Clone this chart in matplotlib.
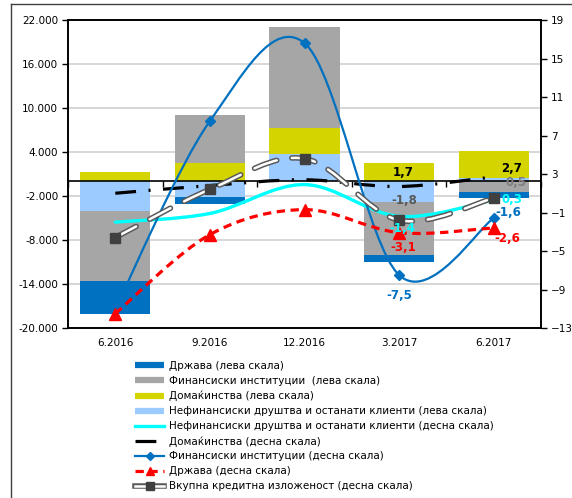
import numpy as np
import matplotlib
matplotlib.use("Agg")
import matplotlib.pyplot as plt
from matplotlib.path import Path
from matplotlib.patches import PathPatch
from matplotlib.lines import Line2D
import matplotlib.patheffects as pe

plt.rcParams['font.family'] = ['DejaVu Sans']
plt.rcParams['lines.scale_dashes'] = False

# периоди
categories = ['6.2016', '9.2016', '12.2016', '3.2017', '6.2017']

# промени во изложеноста, лева скала (столбови)
nefin_left = [-4000, -2100, 3700, -2800, 500]
domak_left = [1300, 2450, 3600, 2450, 3600]
finans_left = [-9600, 6550, 13700, -7250, -1400]
drzava_left = [-4500, -1050, 0, -1000, -900]

# стапки, десна скала (линии)
nefin_right = [-2.0, -1.1, 1.9, -1.4, 0.3]
domak_right = [1.0, 1.8, 2.4, 1.7, 2.7]
finans_right = [-11.0, 8.5, 16.6, -7.5, -1.6]
drzava_right = [-11.5, -3.3, -0.7, -3.1, -2.6]
vkupna_right = [-3.6, 1.4, 4.6, -1.8, 0.5]

left_ticks = [-20000, -14000, -8000, -2000, 4000, 10000, 16000, 22000]
right_ticks = [-13, -9, -5, -1, 3, 7, 11, 15, 19]

c_drz = '#0070C0'
c_fin = '#A6A6A6'
c_dom = '#D4D400'
c_nef = '#9CCBFF'


def smooth_path(xs, ys):
    # мазна крива како во Excel (Безие сегменти)
    pts = np.column_stack([xs, ys]).astype(float)
    n = len(pts)
    verts = [pts[0]]
    codes = [Path.MOVETO]
    for i in range(n - 1):
        p0 = pts[i - 1] if i > 0 else pts[i]
        p1 = pts[i]
        p2 = pts[i + 1]
        p3 = pts[i + 2] if i + 2 < n else pts[i + 1]
        verts += [p1 + (p2 - p0) / 6, p2 - (p3 - p1) / 6, p2]
        codes += [Path.CURVE4] * 3
    return Path(verts, codes)


fig = plt.figure(figsize=(5.72, 4.98), dpi=100)
ax1 = fig.add_axes([68 / 572, 1 - 328 / 498, 473 / 572, 308 / 498])
ax2 = ax1.twinx()

x = np.arange(len(categories))
width = 0.74

# столбови: позитивните и негативните се редат одделно
pos = np.zeros(len(x))
neg = np.zeros(len(x))
for vals, col in [(nefin_left, c_nef), (domak_left, c_dom),
                  (finans_left, c_fin), (drzava_left, c_drz)]:
    v = np.array(vals, dtype=float)
    bottom = np.where(v >= 0, pos, neg)
    ax1.bar(x, v, width, bottom=bottom, color=col, zorder=2)
    pos += np.where(v >= 0, v, 0)
    neg += np.where(v < 0, v, 0)

ax1.set_xlim(-0.5, len(x) - 0.5)
ax1.set_ylim(-20000, 22000)
ax1.set_yticks(left_ticks)
ax1.set_yticklabels([f"{t:,}".replace(',', '.') for t in left_ticks])
ax1.yaxis.grid(True, color='#D4D4D4', lw=1.3, zorder=0)
ax1.set_axisbelow(True)
ax1.set_xticks(x)
ax1.set_xticklabels(categories)
ax1.tick_params(axis='x', length=0, pad=7, labelsize=7.5)
ax1.tick_params(axis='y', length=4, width=1, labelsize=7.5, pad=3)
for s in ax1.spines.values():
    s.set_color('black')
    s.set_linewidth(1.2)

# хоризонтална оска на нула
zero = ax1.secondary_xaxis(20 / 42)
zero.set_xticks(np.arange(-0.5, len(x), 1.0))
zero.tick_params(axis='x', direction='out', length=4, width=1, labelbottom=False, labeltop=False,
                 bottom=True, top=False)
zero.spines['bottom'].set_color('black')
zero.spines['bottom'].set_linewidth(1.2)
zero.set_zorder(5)

ax2.set_ylim(-13, 19)
ax2.set_yticks(right_ticks)
ax2.tick_params(axis='y', length=4, width=1, labelsize=7.5, pad=3)
for s in ax2.spines.values():
    s.set_color('black')
    s.set_linewidth(1.2)

# линии на десна скала
ax2.add_patch(PathPatch(smooth_path(x, nefin_right), fc='none', ec='#00FFFF', lw=2.4,
                        capstyle='round', zorder=3))
ax2.add_patch(PathPatch(smooth_path(x, domak_right), fc='none', ec='black', lw=2.3,
                        linestyle=(0, (15, 9, 1.5, 9)), capstyle='butt', zorder=4))
ax2.add_patch(PathPatch(smooth_path(x, finans_right), fc='none', ec=c_drz, lw=1.6, zorder=5))
ax2.plot(x, finans_right, ls='none', marker='D', ms=5, color=c_drz, zorder=6)
ax2.add_patch(PathPatch(smooth_path(x, drzava_right), fc='none', ec='#FF0000', lw=2.3,
                        linestyle=(0, (6, 4)), capstyle='butt', zorder=6))
ax2.plot(x, drzava_right, ls='none', marker='^', ms=8, color='#FF0000', zorder=7)
vk_effect = [pe.withStroke(linewidth=4.0, foreground='#5A5A5A')]
vk = PathPatch(smooth_path(x, vkupna_right), fc='none', ec='white', lw=1.8,
               linestyle=(0, (17, 11)), capstyle='round', zorder=8)
vk.set_path_effects(vk_effect)
ax2.add_patch(vk)
ax2.plot(x, vkupna_right, ls='none', marker='s', ms=7.5, color='#404040', zorder=9)

# ознаки на вредности
lab = [
    (3, domak_right[3], 'black', 4, 14),
    (4, domak_right[4], 'black', 18, 8),
    (3, vkupna_right[3], '#595959', 5, 20),
    (4, vkupna_right[4], '#7F7F7F', 22, 16),
    (4, nefin_right[4], '#00FFFF', 18, 0),
    (3, nefin_right[3], '#00FFFF', 3, -12),
    (4, finans_right[4], c_drz, 15, 6),
    (3, finans_right[3], c_drz, 0, -20),
    (4, drzava_right[4], '#FF0000', 14, -11),
    (3, drzava_right[3], '#FF0000', 4, -15),
]
for i, v, col, dx, dy in lab:
    ax2.annotate(f"{v:.1f}".replace('.', ','), (i, v), xytext=(dx, dy), textcoords='offset pixels',
                 ha='center', va='center', color=col, fontsize=8.5, fontweight='bold', zorder=10)

# легенда
vk_line = Line2D([], [], color='white', lw=1.8, path_effects=vk_effect)
vk_mark = Line2D([], [], ls='none', marker='s', ms=6, color='#404040')
handles = [
    Line2D([], [], color=c_drz, lw=4.5, solid_capstyle='butt'),
    Line2D([], [], color=c_fin, lw=4.5, solid_capstyle='butt'),
    Line2D([], [], color=c_dom, lw=4.5, solid_capstyle='butt'),
    Line2D([], [], color=c_nef, lw=4.5, solid_capstyle='butt'),
    Line2D([], [], color='#00FFFF', lw=2.4),
    Line2D([], [], color='black', lw=2.3, dashes=(15, 9, 1.5, 9)),
    Line2D([], [], color=c_drz, lw=1.6, marker='D', ms=4),
    Line2D([], [], color='#FF0000', lw=2.3, dashes=(6, 4), marker='^', ms=5.5),
    (vk_line, vk_mark),
]
labels = [
    'Држава (лева скала)',
    'Финансиски институции  (лева скала)',
    'Домаќинства (лева скала)',
    'Нефинансиски друштва и останати клиенти (лева скала)',
    'Нефинансиски друштва и останати клиенти (десна скала)',
    'Домаќинства (десна скала)',
    'Финансиски институции (десна скала)',
    'Држава (десна скала)',
    'Вкупна кредитна изложеност (десна скала)',
]
fig.legend(handles, labels, loc='upper left', bbox_to_anchor=(135 / 572, 1 - 361 / 498),
           frameon=False, fontsize=7.5, handlelength=2.8, handletextpad=0.45,
           labelspacing=0.47, borderpad=0, borderaxespad=0)

# рамка околу графиконот
fig.add_artist(Line2D([11 / 572, 11 / 572], [0, 1 - 4 / 498], color='#404040', lw=1))
fig.add_artist(Line2D([11 / 572, 1], [1 - 4 / 498, 1 - 4 / 498], color='#404040', lw=1))

fig.savefig('out.png', dpi=100)
